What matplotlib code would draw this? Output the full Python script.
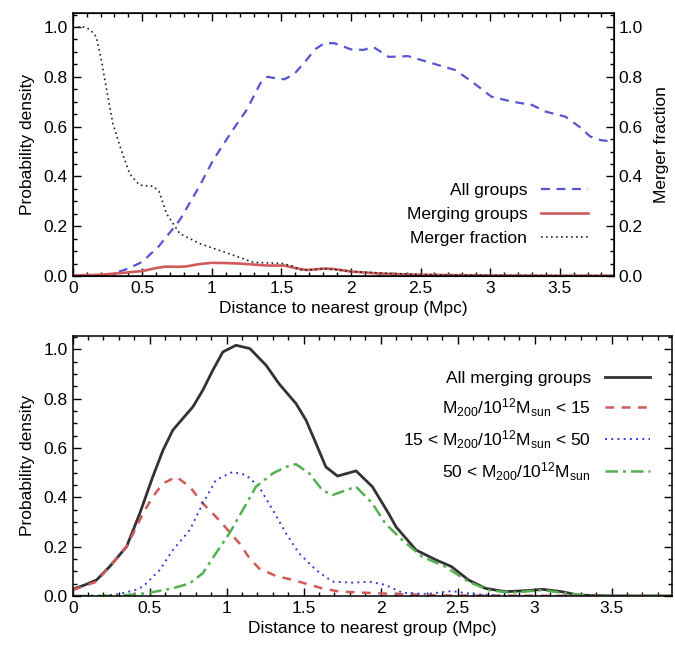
import matplotlib
matplotlib.use("Agg")
import matplotlib.pyplot as plt
from matplotlib.ticker import MultipleLocator, FuncFormatter

plt.rcParams['font.family'] = ['Liberation Sans', 'DejaVu Sans']
plt.rcParams['mathtext.fontset'] = 'custom'
plt.rcParams['mathtext.rm'] = 'Liberation Sans'
plt.rcParams['mathtext.it'] = 'Liberation Sans'
plt.rcParams['font.size'] = 12.5

# top panel: all groups / merging groups / merger fraction
all_x = [0, 0.2, 0.28, 0.4, 0.5, 0.62, 0.77, 0.91, 1.01, 1.15, 1.25, 1.35, 1.40, 1.45, 1.52, 1.59,
         1.67, 1.74, 1.81, 1.88, 1.93, 2.0, 2.09, 2.16, 2.27, 2.41, 2.58, 2.75, 2.87, 3.01, 3.16,
         3.30, 3.40, 3.54, 3.64, 3.72, 3.80, 3.89]
all_y = [0, 0.002, 0.008, 0.03, 0.057, 0.12, 0.225, 0.36, 0.466, 0.586, 0.667, 0.775, 0.80, 0.795,
         0.79, 0.81, 0.86, 0.91, 0.935, 0.935, 0.925, 0.91, 0.908, 0.92, 0.88, 0.883, 0.855, 0.827,
         0.78, 0.72, 0.70, 0.687, 0.66, 0.64, 0.60, 0.56, 0.545, 0.54]

merge_x = [0, 0.2, 0.35, 0.5, 0.6, 0.67, 0.75, 0.81, 0.9, 1.0, 1.1, 1.2, 1.3, 1.4, 1.52, 1.6, 1.68,
           1.75, 1.81, 1.88, 2.0, 2.2, 2.5, 3.0, 3.5, 3.89]
merge_y = [0.002, 0.005, 0.012, 0.02, 0.032, 0.038, 0.037, 0.038, 0.047, 0.053, 0.052, 0.05, 0.046,
           0.042, 0.042, 0.032, 0.024, 0.027, 0.03, 0.028, 0.018, 0.01, 0.005, 0.002, 0.001, 0.001]

frac_x = [0, 0.08, 0.125, 0.17, 0.21, 0.244, 0.29, 0.34, 0.41, 0.48, 0.58, 0.62, 0.675, 0.77, 0.915,
          1.11, 1.30, 1.51, 1.58, 1.63, 1.72, 1.8, 1.9, 2.0, 2.3, 2.6, 3.0, 3.5, 3.89]
frac_y = [1.0, 1.0, 0.99, 0.96, 0.855, 0.747, 0.61, 0.52, 0.41, 0.365, 0.36, 0.34, 0.25, 0.17, 0.13,
          0.092, 0.055, 0.05, 0.04, 0.025, 0.025, 0.03, 0.025, 0.018, 0.01, 0.005, 0.003, 0.002, 0.002]

# bottom panel: merging groups split by mass
allm_x = [0, 0.08, 0.155, 0.24, 0.35, 0.436, 0.52, 0.586, 0.65, 0.716, 0.78, 0.845, 0.91, 0.975,
          1.06, 1.15, 1.256, 1.34, 1.45, 1.515, 1.58, 1.644, 1.72, 1.84, 1.946, 2.05, 2.10, 2.23,
          2.36, 2.46, 2.57, 2.68, 2.81, 2.96, 3.05, 3.175, 3.28, 3.5, 3.89]
allm_y = [0.027, 0.045, 0.065, 0.119, 0.20, 0.335, 0.483, 0.59, 0.672, 0.72, 0.766, 0.834, 0.915,
          0.989, 1.016, 1.003, 0.935, 0.86, 0.78, 0.713, 0.618, 0.523, 0.486, 0.507, 0.443, 0.336,
          0.28, 0.186, 0.146, 0.119, 0.065, 0.031, 0.0175, 0.022, 0.027, 0.0175, 0.004, 0.0, 0.0]

low_x = [0, 0.155, 0.35, 0.457, 0.52, 0.586, 0.673, 0.76, 0.845, 0.93, 1.018, 1.083, 1.148, 1.21,
         1.32, 1.43, 1.62, 1.73, 1.94, 2.1, 2.4, 3.0, 3.89]
low_y = [0.024, 0.058, 0.2, 0.335, 0.402, 0.456, 0.483, 0.443, 0.375, 0.321, 0.26, 0.213, 0.153,
         0.112, 0.081, 0.065, 0.031, 0.018, 0.012, 0.008, 0.002, 0.001, 0.0]

mid_x = [0, 0.2, 0.305, 0.41, 0.457, 0.565, 0.65, 0.76, 0.845, 0.93, 1.04, 1.126, 1.21, 1.30, 1.385,
         1.47, 1.58, 1.687, 1.816, 1.924, 2.03, 2.14, 2.3, 2.46, 2.59, 2.8, 3.89]
mid_y = [0.0, 0.001, 0.008, 0.025, 0.038, 0.105, 0.186, 0.267, 0.375, 0.47, 0.503, 0.49, 0.443,
         0.348, 0.254, 0.173, 0.105, 0.058, 0.054, 0.058, 0.045, 0.013, 0.008, 0.02, 0.008, 0.0, 0.0]

high_x = [0, 0.3, 0.479, 0.65, 0.76, 0.845, 0.93, 1.018, 1.104, 1.19, 1.30, 1.385, 1.45, 1.536, 1.62,
          1.687, 1.84, 1.946, 2.03, 2.14, 2.27, 2.42, 2.57, 2.70, 2.85, 3.05, 3.175, 3.35, 3.89]
high_y = [0.0, 0.001, 0.011, 0.031, 0.051, 0.092, 0.173, 0.254, 0.348, 0.443, 0.497, 0.523, 0.534,
          0.497, 0.43, 0.409, 0.443, 0.375, 0.294, 0.227, 0.159, 0.119, 0.058, 0.024, 0.013, 0.024,
          0.013, 0.0, 0.0]

xlabels_fmt = FuncFormatter(lambda v, p: '%g' % v)
yfmt = FuncFormatter(lambda v, p: '%.1f' % v)


def style_axis(ax, right=True):
    ax.set_xlim(0, 3.89)
    ax.set_ylim(0, 1.055)
    ax.xaxis.set_major_locator(MultipleLocator(0.5))
    ax.xaxis.set_minor_locator(MultipleLocator(0.1))
    ax.yaxis.set_major_locator(MultipleLocator(0.2))
    ax.yaxis.set_minor_locator(MultipleLocator(0.05))
    ax.xaxis.set_major_formatter(xlabels_fmt)
    ax.yaxis.set_major_formatter(yfmt)
    ax.tick_params(which='both', direction='in', top=True, right=right, labelsize=12.5)
    ax.tick_params(which='major', length=6, width=1)
    ax.tick_params(which='minor', length=3, width=1)
    for s in ax.spines.values():
        s.set_linewidth(1.1)
    ax.set_xlabel('Distance to nearest group (Mpc)', labelpad=4)
    ax.set_ylabel('Probability density', labelpad=6)


fig = plt.figure(figsize=(6.75, 6.49), dpi=100)

ax1 = fig.add_axes([0.1077, 0.5747, 0.8019, 0.4048])
style_axis(ax1, right=False)
ax1.plot(all_x, all_y, color='#5555d5', lw=1.6, dashes=(4, 3), label='All groups')
ax1.plot(merge_x, merge_y, color='#d05a5a', lw=1.9, label='Merging groups')

ax1b = ax1.twinx()
ax1b.set_ylim(0, 1.055)
ax1b.yaxis.set_major_locator(MultipleLocator(0.2))
ax1b.yaxis.set_minor_locator(MultipleLocator(0.05))
ax1b.yaxis.set_major_formatter(yfmt)
ax1b.tick_params(which='both', direction='in', labelsize=12.5)
ax1b.tick_params(which='major', length=6, width=1)
ax1b.tick_params(which='minor', length=3, width=1)
ax1b.plot(frac_x, frac_y, color='#222222', lw=1.2, linestyle=(0, (1, 2)), label='Merger fraction')
ax1b.set_ylabel('Merger fraction', labelpad=8)

h1, l1 = ax1.get_legend_handles_labels()
h2, l2 = ax1b.get_legend_handles_labels()
ax1b.legend(h1 + h2, l1 + l2, loc='upper right', bbox_to_anchor=(0.965, 0.38), frameon=False,
            markerfirst=False, handlelength=2.7, labelspacing=0.5, borderaxespad=0)

ax2 = fig.add_axes([0.1077, 0.0817, 0.8874, 0.4011])
style_axis(ax2, right=True)
ax2.plot(allm_x, allm_y, color='#333333', lw=2.0, label='All merging groups')
ax2.plot(low_x, low_y, color='#d05a5a', lw=1.8, dashes=(3.5, 3), label=r'M$_{200}$/10$^{12}$M$_{\rm sun}$ < 15')
ax2.plot(mid_x, mid_y, color='#3a3ad8', lw=1.4, linestyle=(0, (1, 2.2)),
         label=r'15 < M$_{200}$/10$^{12}$M$_{\rm sun}$ < 50')
ax2.plot(high_x, high_y, color='#55b050', lw=1.8, dashes=(5, 2, 1.2, 2),
         label=r'50 < M$_{200}$/10$^{12}$M$_{\rm sun}$')
ax2.legend(loc='upper right', bbox_to_anchor=(0.975, 0.89), frameon=False, markerfirst=False,
           handlelength=2.6, labelspacing=0.55, borderaxespad=0)

fig.savefig('out.png', dpi=100)
